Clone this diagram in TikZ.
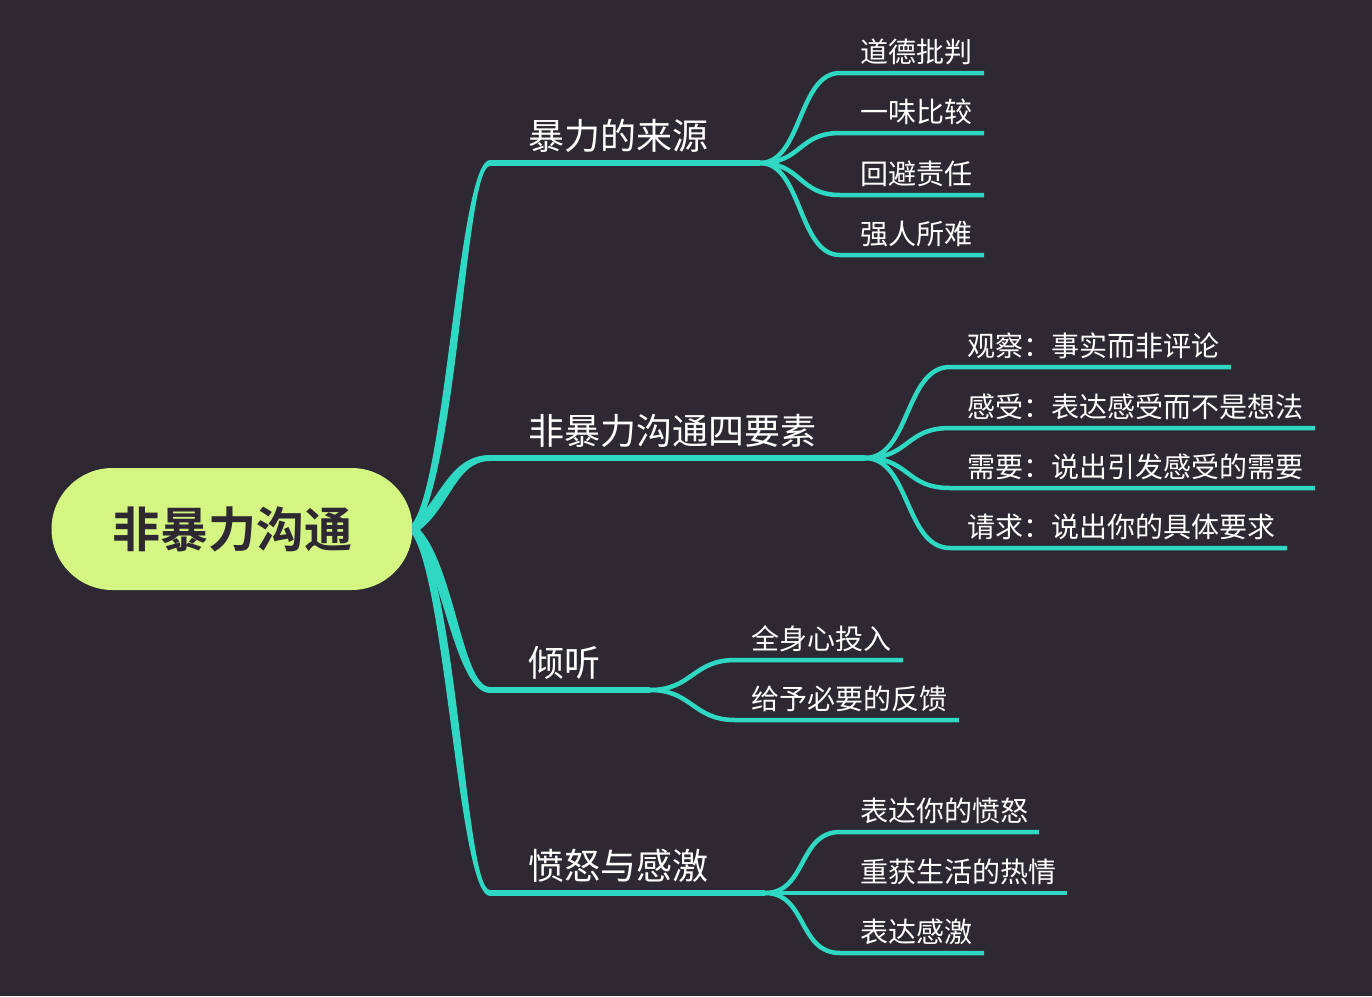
\documentclass[tikz,border=0pt]{standalone}
\usepackage{fontspec}
\setmainfont{Noto Sans CJK SC}[BoldFont={Noto Sans CJK SC Bold}]
\definecolor{bgdark}{HTML}{2E2833}
\definecolor{branch}{HTML}{2ED8C3}
\definecolor{rootfill}{HTML}{D4F582}
\begin{document}
\begin{tikzpicture}[x=1pt, y=-1pt,
    every node/.style={inner sep=0pt, text=white},
    subline/.style={branch, line width=4.5pt},
    mainline/.style={branch, line width=6pt},
    toplabel/.style={anchor=west, font=\fontsize{36}{42}\selectfont},
    leaflabel/.style={anchor=west, font=\fontsize{28}{33}\selectfont}]
    \fill[bgdark] (0,0) rectangle (1372,996);
    \useasboundingbox (0,0) rectangle (1372,996);

    % central topic
    \node[fill=rootfill, rounded corners=61pt, minimum width=361pt, minimum height=122pt,
          text=bgdark, font=\fontsize{48}{56}\selectfont\bfseries] (root) at (232,529) {非暴力沟通};

    % main topics
    \foreach \name/\y/\fx/\txt in {src/163/760/暴力的来源, four/458/865/非暴力沟通四要素, listen/690/650/倾听, anger/893/765/愤怒与感激} {
        \coordinate (\name-s) at (490,\y);
        \coordinate (\name) at (\fx,\y);
        \node[toplabel] (\name-t) at (528,\y-27) {\txt};
        \draw[mainline] (\name-s) -- (\name);
    }
    % tapered stems from the centre
    \fill[branch] ([yshift=6pt]root.east) .. controls (446,478) and (459,160) .. ([yshift=3pt]src-s)
        -- ([yshift=-3pt]src-s) .. controls (465,166) and (458,482) .. ([yshift=-6pt]root.east) -- cycle;
    \fill[branch] ([yshift=6pt]root.east) .. controls (440,500) and (450,455) .. ([yshift=3pt]four-s)
        -- ([yshift=-3pt]four-s) .. controls (454,461) and (450,512) .. ([yshift=-6pt]root.east) -- cycle;
    \fill[branch] ([yshift=6pt]root.east) .. controls (454,553) and (461,687) .. ([yshift=3pt]listen-s)
        -- ([yshift=-3pt]listen-s) .. controls (455,693) and (442,566) .. ([yshift=-6pt]root.east) -- cycle;
    \fill[branch] ([yshift=6pt]root.east) .. controls (458,574) and (465,890) .. ([yshift=3pt]anger-s)
        -- ([yshift=-3pt]anger-s) .. controls (459,896) and (446,586) .. ([yshift=-6pt]root.east) -- cycle;

    % subtopics
    \foreach \y/\e/\txt [count=\i] in {73/984/道德批判, 133/984/一味比较, 195/984/回避责任, 255/984/强人所难} {
        \coordinate (src-\i) at (840,\y);
        \coordinate (src-\i-e) at (\e,\y);
        \node[leaflabel] (src-\i-t) at (860,\y-21) {\txt};
        \draw[subline] (src) .. controls +(42,0) and +(-42,0) .. (src-\i) -- (src-\i-e);
    }
    \foreach \y/\e/\txt [count=\i] in {367/1231/观察：事实而非评论, 428/1315/感受：表达感受而不是想法, 488/1315/需要：说出引发感受的需要, 548/1287/请求：说出你的具体要求} {
        \coordinate (four-\i) at (950,\y);
        \coordinate (four-\i-e) at (\e,\y);
        \node[leaflabel] (four-\i-t) at (967,\y-21) {\txt};
        \draw[subline] (four) .. controls +(45,0) and +(-45,0) .. (four-\i) -- (four-\i-e);
    }
    \foreach \y/\e/\txt [count=\i] in {660/903/全身心投入, 720/959/给予必要的反馈} {
        \coordinate (listen-\i) at (735,\y);
        \coordinate (listen-\i-e) at (\e,\y);
        \node[leaflabel] (listen-\i-t) at (751,\y-21) {\txt};
        \draw[subline] (listen) .. controls +(42,0) and +(-42,0) .. (listen-\i) -- (listen-\i-e);
    }
    \foreach \y/\e/\txt [count=\i] in {832/1039/表达你的愤怒, 893/1067/重获生活的热情, 953/984/表达感激} {
        \coordinate (anger-\i) at (840,\y);
        \coordinate (anger-\i-e) at (\e,\y);
        \node[leaflabel] (anger-\i-t) at (860,\y-21) {\txt};
        \draw[subline] (anger) .. controls +(42,0) and +(-42,0) .. (anger-\i) -- (anger-\i-e);
    }
\end{tikzpicture}
\end{document}
